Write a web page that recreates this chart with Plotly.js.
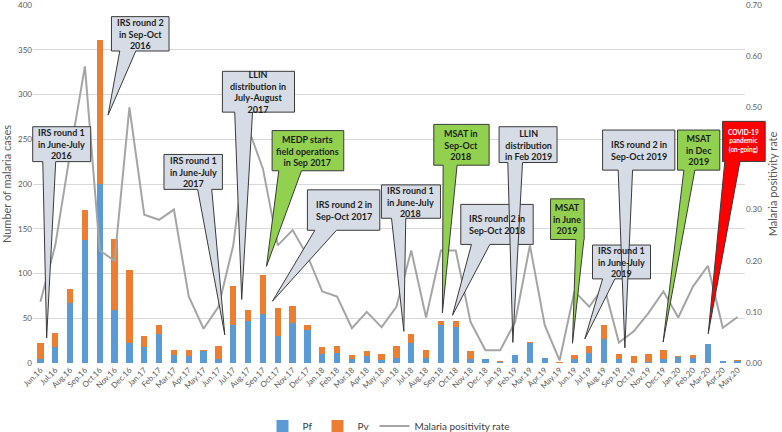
<!DOCTYPE html>
<html><head><meta charset="utf-8">
<script src="https://cdn.plot.ly/plotly-3.0.1.min.js"></script>
<style>html,body{margin:0;padding:0;background:#fff}#chart{width:782px;height:432px}</style>
</head><body><div id="chart"></div>
<script>
// ---- data ----
const months = ["Jun.16","Jul.16","Aug.16","Sep.16","Oct.16","Nov.16","Dec.16",
  "Jan.17","Feb.17","Mar.17","Apr.17","May.17","Jun.17","Jul.17","Aug.17","Sep.17","Oct.17","Nov.17","Dec.17",
  "Jan.18","Feb.18","Mar.18","Apr.18","May.18","Jun.18","Jul.18","Aug.18","Sep.18","Oct.18","Nov.18","Dec.18",
  "Jan.19","Feb.19","Mar.19","Apr.19","May.19","Jun.19","Jul.19","Aug.19","Sep.19","Oct.19","Nov.19","Dec.19",
  "Jan.20","Feb.20","Mar.20","Apr.20","May.20"];
const pf = [5,18,67,137,200,59,22,18,32,9,8,13,4,43,47,55,30,45,37,
  10,11,5,8,3,6,22,6,43,40,5,4,1,9,22,6,0,4,11,27,4,0,1,5,7,6,21,2,2];
const pv = [17,16,16,34,161,79,82,12,11,5,6,2,15,43,12,43,32,19,5,
  8,8,4,5,7,13,10,8,4,7,8,0,1,0,1,0,1,5,8,15,6,8,9,9,1,3,0,0,1];
const rate = [0.12,0.23,0.41,0.58,0.22,0.20,0.50,0.29,0.28,0.30,0.13,0.067,0.11,0.23,0.46,0.38,0.23,0.26,0.21,
  0.14,0.13,0.068,0.10,0.07,0.11,0.22,0.089,0.22,0.22,0.08,0.025,0.025,0.08,0.23,0.074,0.005,0.14,0.11,0.15,
  0.04,0.062,0.098,0.14,0.089,0.15,0.19,0.069,0.09];
// right-axis labels visible in the reference (0.40 is hidden behind the red callout)
const rateTicks = [0, 0.1, 0.2, 0.3, 0.5, 0.6, 0.7];
const idx = months.map((m, i) => i);

// ---- callouts (x in category index units, y in case counts) ----
const GREY = "#d6dce5", GREEN = "#92d050", RED = "#ff0000";
const callouts = [
  {t:"IRS round 1<br>in June-July<br>2016", x0:-0.52,x1:3.39,y0:225,y1:264,b0:0.16,b1:1.03,tx:0.42,ty:28,f:GREY},
  {t:"IRS round 2<br>in Sep-Oct<br>2016", x0:4.79,x1:8.67,y0:348.6,y1:387,b0:5.35,b1:6.43,tx:4.56,ty:277,f:GREY},
  {t:"IRS round 1<br>in June-July<br>2017", x0:8.33,x1:12.27,y0:194,y1:233,b0:10.6,b1:11.55,tx:12.43,ty:31.5,f:GREY},
  {t:"LLIN<br>distribution in<br>July-August<br>2017", x0:12.27,x1:17.13,y0:280.3,y1:325.9,b0:13.1,b1:14.3,tx:13.57,ty:71,f:GREY},
  {t:"MEDP starts<br>field operations<br>in Sep 2017", x0:15.62,x1:20.45,y0:214.8,y1:259.7,b0:16.07,b1:17.6,tx:15.24,ty:108,f:GREEN},
  {t:"IRS round 2 in<br>Sep-Oct 2017", x0:18.0,x1:22.88,y0:148.3,y1:193.5,b0:18.5,b1:19.96,tx:15.64,ty:69,f:GREY},
  {t:"IRS round 1<br>in June-July<br>2018", x0:22.99,x1:26.97,y0:161.7,y1:199,b0:23.67,b1:24.63,tx:24.5,ty:35.4,f:GREY},
  {t:"MSAT in<br>Sep-Oct<br>2018", x0:26.52,x1:30.25,y0:221,y1:266.6,b0:27.15,b1:28.09,tx:27.1,ty:56,f:GREEN},
  {t:"IRS round 2 in<br>Sep-Oct 2018", x0:28.34,x1:33.22,y0:132.5,y1:177.2,b0:29.06,b1:30.3,tx:27.78,ty:53.3,f:GREY},
  {t:"LLIN<br>distribution<br>in Feb 2019", x0:30.92,x1:34.83,y0:224,y1:264,b0:31.51,b1:32.5,tx:31.85,ty:23,f:GREY},
  {t:"MSAT<br>in June<br>2019", x0:34.39,x1:36.66,y0:138,y1:183.4,b0:36.1,b1:36.64,tx:35.87,ty:22,f:GREEN},
  {t:"IRS round 1<br>in June-July<br>2019", x0:37.22,x1:41.13,y0:94,y1:131.8,b0:37.9,b1:38.73,tx:36.7,ty:26.8,f:GREY},
  {t:"IRS round 2 in<br>Sep-Oct 2019", x0:37.9,x1:42.77,y0:215.5,y1:260.3,b0:38.95,b1:39.92,tx:39.4,ty:17,f:GREY},
  {t:"MSAT<br>in Dec<br>2019", x0:42.95,x1:45.8,y0:215.5,y1:260.3,b0:43.38,b1:44.12,tx:41.98,ty:23.4,f:GREEN},
  {t:"COVID-19<br>pandemic<br>(on-going)", x0:45.99,x1:48.86,y0:225.2,y1:270,b0:46.14,b1:47.16,tx:45.02,ty:32.7,f:RED,c:"#ffffff",s:6.5}
];

const XR = [-0.5, 47.5], YR = [0, 400];
const PX = v => (v - XR[0]) / (XR[1] - XR[0]);
const PY = v => (v - YR[0]) / (YR[1] - YR[0]);
const FONT = "Lato, 'Open Sans', sans-serif";

const shapes = [], annotations = [];
callouts.forEach(c => {
  const path = `M${PX(c.x0)},${PY(c.y1)} L${PX(c.x1)},${PY(c.y1)} L${PX(c.x1)},${PY(c.y0)} ` +
    `L${PX(c.b1)},${PY(c.y0)} L${PX(c.tx)},${PY(c.ty)} L${PX(c.b0)},${PY(c.y0)} L${PX(c.x0)},${PY(c.y0)} Z`;
  shapes.push({type:"path", xref:"paper", yref:"paper", path, fillcolor:c.f,
    line:{color:"#3a3a3a", width:1}, layer:"above"});
  annotations.push({xref:"paper", yref:"paper", x:PX((c.x0+c.x1)/2), y:PY((c.y0+c.y1)/2),
    text:"<b>"+c.t+"</b>", showarrow:false, align:"center", xanchor:"center", yanchor:"middle",
    font:{family:FONT, size:c.s||9, color:c.c||"#1e1e1e"}});
});

const traces = [
  {type:"bar", name:"Pf", x:idx, y:pf, marker:{color:"#5b9bd5"}},
  {type:"bar", name:"Pv", x:idx, y:pv, marker:{color:"#ed7d31"}},
  {type:"scatter", mode:"lines", name:"Malaria positivity rate", x:idx, y:rate, yaxis:"y2",
   line:{color:"#a5a5a5", width:2}}
];

const layout = {
  width:782, height:432,
  margin:{l:33, r:37, t:5, b:69, autoexpand:false},
  paper_bgcolor:"#fff", plot_bgcolor:"#fff",
  barmode:"stack", bargap:0.58,
  font:{family:FONT, color:"#595959", size:8},
  showlegend:true,
  legend:{orientation:"h", x:0.5, xanchor:"center", yref:"container", y:0.014, yanchor:"middle",
    font:{size:10, color:"#404040"}, traceorder:"normal"},
  xaxis:{range:XR, tickmode:"array", tickvals:idx, ticktext:months, tickangle:-45, automargin:false,
    showgrid:false, zeroline:false, showline:false, ticks:"", tickfont:{size:8, color:"#595959"}},
  yaxis:{range:YR, dtick:50, showgrid:true, gridcolor:"#d9d9d9", gridwidth:1, zeroline:false,
    showline:false, ticks:"", automargin:false, ticklabeloverflow:"allow", tickfont:{size:8, color:"#595959"},
    title:{text:"Number of malaria cases", font:{size:11, color:"#595959"}, standoff:6}},
  yaxis2:{range:[0,0.7], tickmode:"array", tickvals:rateTicks, tickformat:".2f", overlaying:"y", side:"right",
    showgrid:false, zeroline:false, showline:false, ticks:"", automargin:false, ticklabeloverflow:"allow",
    tickfont:{size:8, color:"#595959"},
    title:{text:"Malaria positivity rate", font:{size:11, color:"#595959"}, standoff:8}},
  shapes, annotations
};

Plotly.newPlot("chart", traces, layout, {displayModeBar:false, staticPlot:true});
</script>
</body></html>
